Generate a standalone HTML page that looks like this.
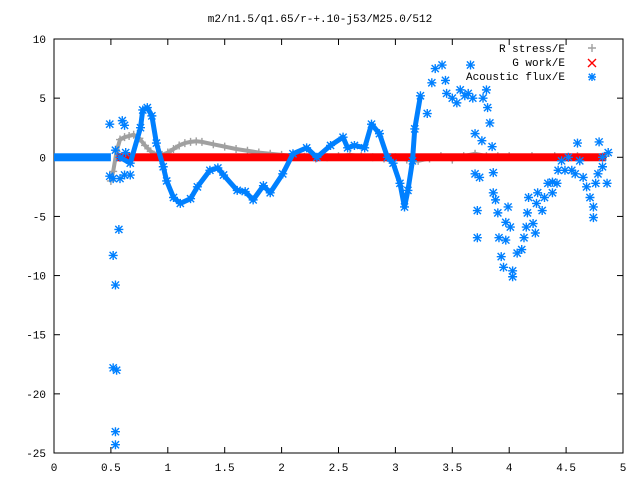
<!DOCTYPE html>
<html><head><meta charset="utf-8"><style>
body{margin:0;background:#fff}
svg text{font-family:"Liberation Mono","DejaVu Sans Mono",monospace;font-size:11px;fill:#000}
</style></head><body>
<svg id="chart" width="640" height="480" xmlns="http://www.w3.org/2000/svg">
<rect width="640" height="480" fill="#fff"/>
<text x="320" y="22" text-anchor="middle">m2/n1.5/q1.65/r-+.10-j53/M25.0/512</text>
<g id="axes"></g>
<g id="plot"></g>
<g id="legend">
<text x="565" y="52" text-anchor="end">R stress/E</text>
<text x="565" y="66" text-anchor="end">G work/E</text>
<text x="565" y="80" text-anchor="end">Acoustic flux/E</text>
</g>
</svg>
<script>
const xTicks=[0,0.5,1,1.5,2,2.5,3,3.5,4,4.5,5];
const xTickLabels=["0","0.5","1","1.5","2","2.5","3","3.5","4","4.5","5"];
const yTicks=[10,5,0,-5,-10,-15,-20,-25];
const yTickLabels=["10","5","0","-5","-10","-15","-20","-25"];
const rStress=[[0.50,-2],[0.52,-1.2],[0.55,0.5],[0.58,1.5],[0.62,1.7],[0.66,1.8],[0.70,1.9],[0.75,1.6],[0.80,1.0],[0.85,0.5],[0.90,0.2],[0.95,0.2],[1.0,0.4],[1.05,0.7],[1.1,1.0],[1.15,1.2],[1.2,1.3],[1.25,1.35],[1.3,1.3],[1.4,1.1],[1.5,0.9],[1.6,0.7],[1.7,0.55],[1.8,0.4],[1.9,0.3],[2.0,0.2],[2.1,0.1],[2.2,0.05],[2.3,-0.1],[2.4,0],[2.5,0.1],[2.6,0.2],[2.7,0.1],[2.8,0],[2.9,-0.1],[3.0,0],[3.1,-0.2],[3.2,-0.3],[3.3,-0.1],[3.4,0.1],[3.5,-0.2],[3.6,0.1],[3.7,0.3],[3.8,0.1],[3.9,0.1],[4.0,0.1],[4.2,0.1],[4.4,0.1],[4.6,0.1],[4.85,0.1]];
const gWorkRange=[0.55,4.85];
const gWorkValue=0;
const fluxFlatRange=[0,0.5];
const fluxFlatValue=0;
const fluxCurve=[[0.58,0],[0.67,-0.5],[0.76,2.5],[0.78,4],[0.82,4.2],[0.86,3.5],[0.9,1.2],[0.96,-0.8],[0.99,-2],[1.05,-3.4],[1.11,-3.9],[1.2,-3.5],[1.26,-2.5],[1.37,-1.1],[1.44,-0.9],[1.49,-1.5],[1.61,-2.8],[1.68,-2.9],[1.75,-3.6],[1.84,-2.4],[1.9,-3],[2.01,-1.4],[2.1,0.3],[2.22,0.8],[2.31,0],[2.43,1],[2.54,1.7],[2.58,0.8],[2.64,1],[2.73,0.8],[2.79,2.8],[2.86,2],[2.93,0],[2.98,-0.5],[3.04,-2.2],[3.08,-4.2],[3.11,-2.8],[3.15,-0.3],[3.17,2.4],[3.22,5.2]];
const fluxScatter=[[0.49,2.8],[0.49,-1.6],[0.52,-1.8],[0.52,-8.3],[0.54,-10.8],[0.52,-17.8],[0.55,-18],[0.54,-23.2],[0.54,-24.3],[0.57,-6.1],[0.54,0.6],[0.58,-1.8],[0.6,3.1],[0.62,2.7],[0.63,0.4],[0.62,-1.5],[0.67,-1.5],
[3.28,3.7],[3.32,6.3],[3.35,7.5],[3.41,7.8],[3.44,6.5],[3.45,5.4],[3.5,5],[3.54,4.6],[3.57,5.7],[3.61,5.2],[3.64,5.4],[3.66,7.8],[3.68,5],[3.7,2],[3.7,-1.4],[3.72,-4.5],[3.72,-6.8],[3.74,-1.7],[3.76,1.4],[3.77,5],[3.8,5.7],[3.81,4.2],[3.83,2.9],[3.85,0.9],[3.86,-1.3],[3.86,-3],[3.88,-3.6],[3.9,-4.7],[3.91,-6.8],[3.93,-8.4],[3.95,-9.3],[3.97,-5.5],[3.97,-7],[3.99,-4.2],[4.01,-5.9],[4.03,-9.6],[4.03,-10.1],[4.07,-8.1],[4.11,-7.8],[4.13,-6.8],[4.15,-5.9],[4.16,-4.7],[4.17,-3.4],[4.21,-5.6],[4.23,-6.4],[4.24,-3.9],[4.25,-3],[4.29,-4.5],[4.31,-3.4],[4.34,-2.2],[4.38,-2.1],[4.38,-3],[4.42,-2.2],[4.43,-1.1],[4.46,-0.3],[4.49,-1.1],[4.52,0],[4.55,-1.1],[4.58,-1.4],[4.6,1.2],[4.62,-0.3],[4.65,-1.7],[4.68,-2.5],[4.71,-3.4],[4.74,-4.2],[4.74,-5.1],[4.76,-2.2],[4.78,-1.4],[4.79,1.3],[4.82,0],[4.82,-0.8],[4.86,-2.2],[4.87,0.4]];

const L=54,R=623,T=39,B=453,xMin=0,xMax=5,yMin=-25,yMax=10;
const sx=v=>L+(v-xMin)/(xMax-xMin)*(R-L);
const sy=v=>B-(v-yMin)/(yMax-yMin)*(B-T);
const NS="http://www.w3.org/2000/svg";
function mk(tag,attrs,parent){const e=document.createElementNS(NS,tag);for(const k in attrs)e.setAttribute(k,attrs[k]);parent.appendChild(e);return e;}
const axes=document.getElementById('axes'),plot=document.getElementById('plot');
const frame=mk('rect',{x:L,y:T,width:R-L,height:B-T,fill:'none',stroke:'#000','stroke-width':1},axes);


xTicks.forEach((v,i)=>{const x=sx(v);
 const t1=mk('line',{x1:x,y1:B,x2:x,y2:B-6,stroke:'#000'},axes);
 
 
 const t2=mk('line',{x1:x,y1:T,x2:x,y2:T+6,stroke:'#000'},axes);
 
 
 const tx=mk('text',{x:x,y:471,'text-anchor':'middle'},axes);tx.textContent=xTickLabels[i];
 
 
});
yTicks.forEach((v,i)=>{const y=sy(v);
 const t1=mk('line',{x1:L,y1:y,x2:L+6,y2:y,stroke:'#000'},axes);
 
 
 const t2=mk('line',{x1:R,y1:y,x2:R-6,y2:y,stroke:'#000'},axes);
 
 
 const tx=mk('text',{x:46,y:y+4,'text-anchor':'end'},axes);tx.textContent=yTickLabels[i];
 
 
});
function plus(x,y,c,h,g){mk('path',{d:`M${x-h} ${y}H${x+h}M${x} ${y-h}V${y+h}`,stroke:c,'stroke-width':1.4,fill:'none'},g);}
function cross(x,y,c,h,g){mk('path',{d:`M${x-h} ${y-h}L${x+h} ${y+h}M${x-h} ${y+h}L${x+h} ${y-h}`,stroke:c,'stroke-width':1.4,fill:'none'},g);}
function star(x,y,c,h,g){plus(x,y,c,h,g);cross(x,y,c,h*0.8,g);}
const gR=mk('g',{},plot);


mk('polyline',{points:rStress.map(p=>sx(p[0])+','+sy(p[1])).join(' '),fill:'none',stroke:'#a0a0a0','stroke-width':4},gR);
rStress.forEach(p=>plus(sx(p[0]),sy(p[1]),'#a0a0a0',4,gR));
const gG=mk('g',{},plot);


mk('rect',{x:sx(gWorkRange[0]),y:sy(gWorkValue)-4,width:sx(gWorkRange[1])-sx(gWorkRange[0]),height:8,fill:'#ff0000'},gG);
const gF=mk('g',{},plot);


mk('rect',{x:sx(fluxFlatRange[0]),y:sy(fluxFlatValue)-4,width:sx(fluxFlatRange[1])-sx(fluxFlatRange[0]),height:8,fill:'#0080ff'},gF);
mk('polyline',{points:fluxCurve.map(p=>sx(p[0])+','+sy(p[1])).join(' '),fill:'none',stroke:'#0080ff','stroke-width':5,'stroke-linejoin':'round'},gF);
fluxCurve.forEach(p=>star(sx(p[0]),sy(p[1]),'#0080ff',4.5,gF));
fluxScatter.forEach(p=>star(sx(p[0]),sy(p[1]),'#0080ff',4.5,gF));
const lg=document.getElementById('legend');
plus(592,48,'#a0a0a0',4,lg);cross(592,63,'#ff0000',4,lg);star(592,77,'#0080ff',4,lg);
</script>
</body></html>
